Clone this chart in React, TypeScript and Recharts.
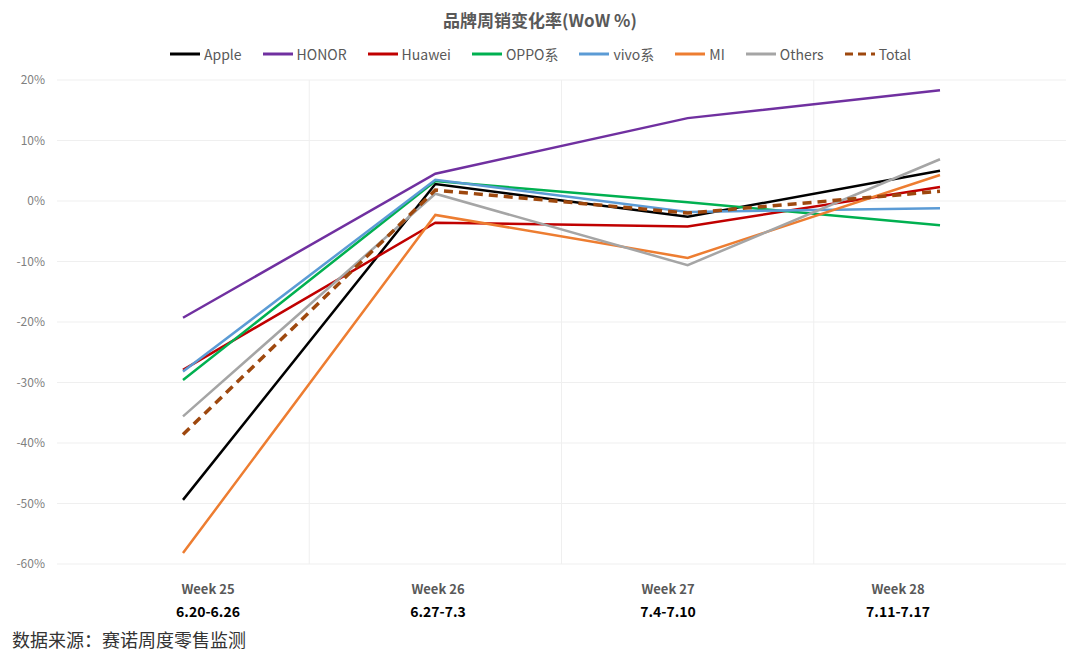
import React from 'react'
import { LineChart, Line, XAxis, YAxis, CartesianGrid } from 'recharts'

const weeks = ['Week 25', 'Week 26', 'Week 27', 'Week 28']
const dateRanges = ['6.20-6.26', '6.27-7.3', '7.4-7.10', '7.11-7.17']

const apple = [-49.4, 2.8, -2.6, 5.0]
const honor = [-19.3, 4.5, 13.7, 18.3]
const huawei = [-27.9, -3.6, -4.2, 2.3]
const oppo = [-29.6, 3.3, -0.2, -4.0]
const vivo = [-28.2, 3.5, -1.8, -1.2]
const mi = [-58.2, -2.3, -9.4, 4.3]
const others = [-35.6, 1.2, -10.6, 6.9]
const total = [-38.6, 1.8, -2.0, 1.6]

const yTicks = [20, 10, 0, -10, -20, -30, -40, -50, -60]

const series = [
  { key: 'Apple', values: apple, color: '#000000' },
  { key: 'HONOR', values: honor, color: '#7030A0' },
  { key: 'Huawei', values: huawei, color: '#C00000' },
  { key: 'OPPO系', values: oppo, color: '#00B050' },
  { key: 'vivo系', values: vivo, color: '#5B9BD5' },
  { key: 'MI', values: mi, color: '#ED7D31' },
  { key: 'Others', values: others, color: '#A5A5A5' },
  { key: 'Total', values: total, color: '#9E480E', dashed: true },
]

const data = weeks.map((w, i) => {
  const row: Record<string, string | number> = { week: w, range: dateRanges[i] }
  series.forEach((s) => { row[s.key] = s.values[i] })
  return row
})

const FONT = '"Noto Sans CJK SC", "Noto Sans", sans-serif'

function YTick({ x, y, payload }: any) {
  return (
    <text x={x + 6} y={y} dy={4} textAnchor="end" fontSize={12} fill="#7F7F7F" fontFamily={FONT}>
      {`${payload.value}%`}
    </text>
  )
}

function XTick({ x, y, payload, index }: any) {
  return (
    <g transform={`translate(${x},${y})`}>
      <text y={22} textAnchor="middle" fontSize={13} fontWeight={600} fill="#595959" fontFamily={FONT}>
        {payload.value}
      </text>
      <text y={45} textAnchor="middle" fontSize={14} fontWeight={600} fill="#000" fontFamily={FONT}>
        {dateRanges[index]}
      </text>
    </g>
  )
}

function LegendRow() {
  return (
    <div style={{ display: 'flex', justifyContent: 'center', gap: 20, fontFamily: FONT, fontSize: 14, color: '#595959' }}>
      {series.map((s) => (
        <div key={s.key} style={{ display: 'flex', alignItems: 'center', gap: 3 }}>
          <svg width={32} height={6}>
            <line x1={1} y1={3} x2={31} y2={3} stroke={s.color} strokeWidth={3}
              strokeDasharray={s.dashed ? '8 5' : undefined} />
          </svg>
          <span>{s.key}</span>
        </div>
      ))}
    </div>
  )
}

export default function App() {
  return (
    <div style={{ position: 'fixed', left: 0, top: 0, width: 1080, height: 663, background: '#fff' }}>
      <div style={{ position: 'absolute', top: 7, width: 1080, textAlign: 'center', fontFamily: FONT, fontSize: 17, fontWeight: 700, color: '#595959' }}>
        品牌周销变化率(WoW %)
      </div>
      <div style={{ position: 'absolute', top: 44, width: 1080 }}>
        <LegendRow />
      </div>
      <LineChart width={1080} height={663} data={data} margin={{ top: 80, right: 14, bottom: 39, left: 0 }}>
        <CartesianGrid
          stroke="#EFEFEF"
          verticalCoordinatesGenerator={({ offset }: any) =>
            [1, 2, 3].map((k) => offset.left + (offset.width * k) / 4)}
        />
        <XAxis dataKey="week" hide height={0} padding={{ left: 126, right: 126 }} />
        <XAxis xAxisId="lbl" dataKey="week" height={60} axisLine={false} tickLine={false}
          padding={{ left: 151, right: 168 }} tick={<XTick />} interval={0} />
        <YAxis width={57} domain={[-60, 20]} ticks={yTicks} axisLine={false} tickLine={false}
          tick={<YTick />} tickMargin={12} />
        {series.map((s) => (
          <Line key={s.key} dataKey={s.key} stroke={s.color} strokeWidth={s.dashed ? 3.5 : 2.5}
            strokeDasharray={s.dashed ? '9 6' : undefined} dot={false} isAnimationActive={false} />
        ))}
      </LineChart>
      <div style={{ position: 'absolute', left: 12, top: 626, fontFamily: FONT, fontSize: 18, color: '#333' }}>
        数据来源：赛诺周度零售监测
      </div>
    </div>
  )
}
